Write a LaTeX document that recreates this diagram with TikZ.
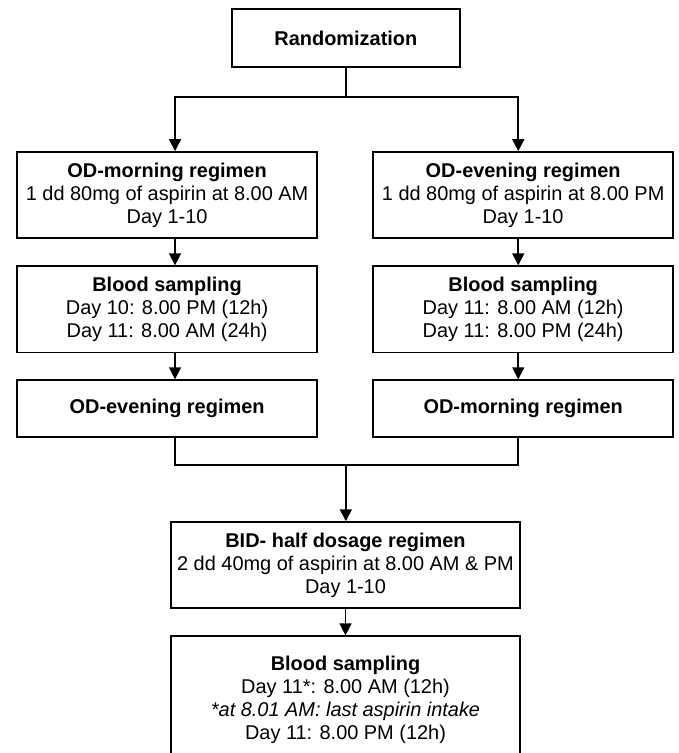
\documentclass[tikz,border=0pt]{standalone}
\usepackage{fontspec}
\setmainfont{Liberation Sans}
\usetikzlibrary{arrows.meta,positioning,calc}

\begin{document}
\begin{tikzpicture}[
    box/.style={draw, line width=1.2pt, inner sep=0pt, align=center,
                font=\fontsize{15}{17.25}\selectfont},
    arr/.style={line width=1.2pt, -{Triangle[width=9pt,length=9pt]}},
    link/.style={line width=1.2pt}
  ]
  \useasboundingbox (0,0) rectangle (17.94,-19.92);
  \clip (0,0) rectangle (17.94,-19.92);

  \node[box, minimum width=6.03cm, minimum height=1.53cm] (rand) at (9.15,-1.01) {\textbf{Randomization}};

  % left arm
  \node[box, minimum width=7.94cm, minimum height=2.28cm] (odm) at (4.42,-5.16)
    {\textbf{OD-morning regimen}\\1 dd 80mg of aspirin at 8.00 AM\\Day 1-10};
  \node[box, minimum width=7.94cm, minimum height=2.28cm] (bsl) at (4.42,-8.18)
    {\textbf{Blood sampling}\\Day 10: 8.00 PM (12h)\\Day 11: 8.00 AM (24h)};
  \node[box, minimum width=7.94cm, minimum height=1.51cm] (oel) at (4.42,-10.81)
    {\textbf{OD-evening regimen}};

  % right arm
  \node[box, minimum width=7.94cm, minimum height=2.28cm] (ode) at (13.84,-5.16)
    {\textbf{OD-evening regimen}\\1 dd 80mg of aspirin at 8.00 PM\\Day 1-10};
  \node[box, minimum width=7.94cm, minimum height=2.28cm] (bsr) at (13.84,-8.18)
    {\textbf{Blood sampling}\\Day 11: 8.00 AM (12h)\\Day 11: 8.00 PM (24h)};
  \node[box, minimum width=7.94cm, minimum height=1.51cm] (omr) at (13.84,-10.81)
    {\textbf{OD-morning regimen}};

  % BID phase
  \node[box, minimum width=9.23cm, minimum height=2.28cm] (bid) at (9.14,-14.95)
    {\textbf{BID- half dosage regimen}\\2 dd 40mg of aspirin at 8.00 AM \& PM\\Day 1-10};
  \node[box, minimum width=9.23cm, minimum height=3.36cm] (bsb) at (9.14,-18.51)
    {\textbf{Blood sampling}\\Day 11*: 8.00 AM (12h)\\\textit{*at 8.01 AM: last aspirin intake}\\Day 11: 8.00 PM (12h)};

  % connectors
  \draw[link] (rand.south) -- ++(0,-0.77) coordinate (split);
  \draw[arr] (split) -| ([xshift=0.21cm]odm.north);
  \draw[arr] (split) -| ([xshift=-0.13cm]ode.north);
  \draw[arr] ([xshift=0.21cm]odm.south) -- ([xshift=0.21cm]bsl.north);
  \draw[arr] ([xshift=-0.13cm]ode.south) -- ([xshift=-0.13cm]bsr.north);
  \draw[arr] ([xshift=0.21cm]bsl.south) -- ([xshift=0.21cm]oel.north);
  \draw[arr] ([xshift=-0.13cm]bsr.south) -- ([xshift=-0.13cm]omr.north);

  \coordinate (merge) at (9.15,-12.30);
  \draw[link] ([xshift=0.21cm]oel.south) |- (merge) -| ([xshift=-0.13cm]omr.south);
  \draw[arr] (merge) -- (merge |- bid.north);
  \draw[arr] (bid.south) -- (bsb.north);
\end{tikzpicture}
\end{document}
